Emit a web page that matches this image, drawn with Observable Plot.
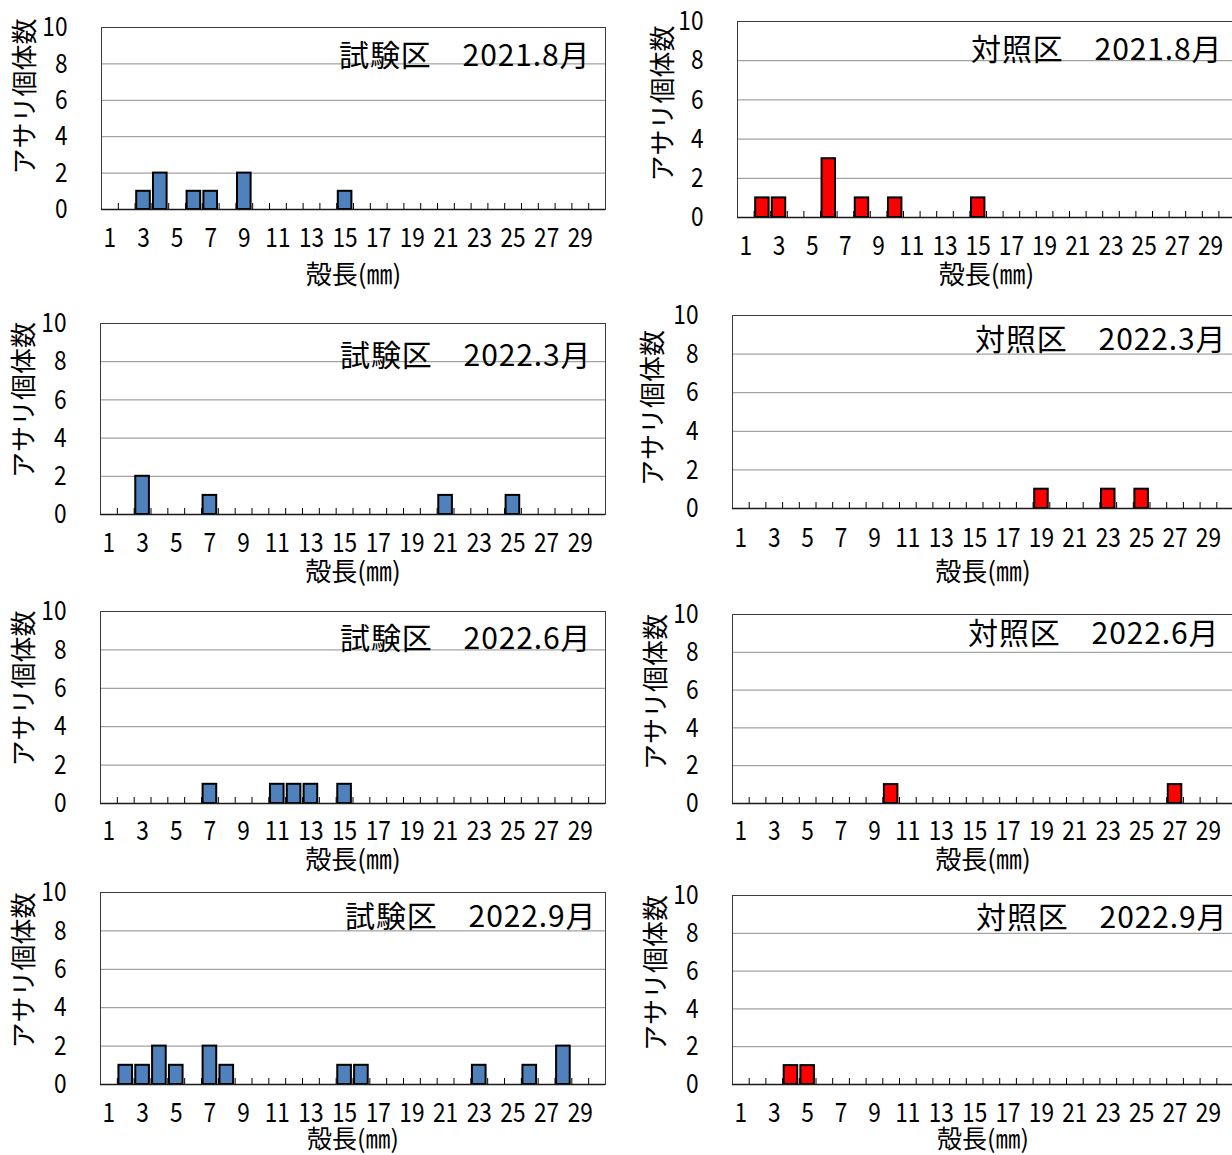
<!DOCTYPE html>
<html><head><meta charset="utf-8">
<script src="https://cdn.jsdelivr.net/npm/d3@7"></script>
<script src="https://cdn.jsdelivr.net/npm/@observablehq/plot@0.6"></script>
<style>
html,body{margin:0;padding:0;background:#fff;}
#wrap{position:relative;width:1232px;height:1155px;overflow:hidden;background:#fff;}
#wrap svg{position:absolute;overflow:visible;background:transparent !important;}
</style></head><body><div id="wrap"></div>
<script>
// shell length classes (mm)
const sizes = [1,2,3,4,5,6,7,8,9,10,11,12,13,14,15,16,17,18,19,20,21,22,23,24,25,26,27,28,29,30];
const xTickLabels = [1,3,5,7,9,11,13,15,17,19,21,23,25,27,29];
const boundaryCats = [2,3,4,5,6,7,8,9,10,11,12,13,14,15,16,17,18,19,20,21,22,23,24,25,26,27,28,29,30];
const yTicks = [0,2,4,6,8,10];
const gridTicks = [2,4,6,8];

// counts of アサリ per shell length class (index 0 = 1 mm)
const test_2021_08 = [0,0,1,2,0,1,1,0,2,0, 0,0,0,0,1,0,0,0,0,0, 0,0,0,0,0,0,0,0,0,0];
const ctrl_2021_08 = [0,1,1,0,0,3,0,1,0,1, 0,0,0,0,1,0,0,0,0,0, 0,0,0,0,0,0,0,0,0,0];
const test_2022_03 = [0,0,2,0,0,0,1,0,0,0, 0,0,0,0,0,0,0,0,0,0, 1,0,0,0,1,0,0,0,0,0];
const ctrl_2022_03 = [0,0,0,0,0,0,0,0,0,0, 0,0,0,0,0,0,0,0,1,0, 0,0,1,0,1,0,0,0,0,0];
const test_2022_06 = [0,0,0,0,0,0,1,0,0,0, 1,1,1,0,1,0,0,0,0,0, 0,0,0,0,0,0,0,0,0,0];
const ctrl_2022_06 = [0,0,0,0,0,0,0,0,0,1, 0,0,0,0,0,0,0,0,0,0, 0,0,0,0,0,0,1,0,0,0];
const test_2022_09 = [0,1,1,2,1,0,2,1,0,0, 0,0,0,0,1,1,0,0,0,0, 0,0,1,0,0,1,0,2,0,0];
const ctrl_2022_09 = [0,0,0,1,1,0,0,0,0,0, 0,0,0,0,0,0,0,0,0,0, 0,0,0,0,0,0,0,0,0,0];

const titles = ["試験区　2021.8月","対照区　2021.8月","試験区　2022.3月","対照区　2022.3月",
                "試験区　2022.6月","対照区　2022.6月","試験区　2022.9月","対照区　2022.9月"];
const yTitle = "アサリ個体数";
const xTitle = "殻長(㎜)";

const BLUE = "#4f81bd", RED = "#ff0000";
const JP_FONT = "'Noto Sans CJK JP',sans-serif";

// layout (pixel positions of each panel frame and its texts)
const layouts = [
  {series: test_2021_08, fill: BLUE, col: 0, fl: 101, fw: 504, ft: 27,  fb: 209,  tp: 18, xt: 66, xs: 26, yx: -76, yy: -22, tx: -15, ty: 29},
  {series: ctrl_2021_08, fill: RED,  col: 1, fl: 737, fw: 498, ft: 21,  fb: 217,  tp: 18, xt: 58, xs: 26, yx: -74, yy: -16, tx: -13, ty: 29},
  {series: test_2022_03, fill: BLUE, col: 0, fl: 100, fw: 505, ft: 323, fb: 514,  tp: 18, xt: 58, xs: 26, yx: -76, yy: -19, tx: -14, ty: 33},
  {series: ctrl_2022_03, fill: RED,  col: 1, fl: 732, fw: 501, ft: 315, fb: 508,  tp: 19, xt: 64, xs: 26, yx: -79, yy: -4,  tx: -7,  ty: 25},
  {series: test_2022_06, fill: BLUE, col: 0, fl: 100, fw: 505, ft: 611, fb: 803,  tp: 17, xt: 57, xs: 26, yx: -76, yy: -19, tx: -14, ty: 28},
  {series: ctrl_2022_06, fill: RED,  col: 1, fl: 732, fw: 501, ft: 614, fb: 803,  tp: 17, xt: 57, xs: 26, yx: -76, yy: -17, tx: -14, ty: 20},
  {series: test_2022_09, fill: BLUE, col: 0, fl: 100, fw: 505, ft: 892, fb: 1084, tp: 18, xt: 55, xs: 25, yx: -76, yy: -18, tx: -9,  ty: 25},
  {series: ctrl_2022_09, fill: RED,  col: 1, fl: 732, fw: 501, ft: 895, fb: 1084, tp: 18, xt: 55, xs: 25, yx: -76, yy: -17, tx: -6,  ty: 23}
];

const wrap = document.getElementById("wrap");
const MT = 30, MB = 90;

// narrow the numeric tick labels horizontally (the original uses a condensed face)
function condense(svg, label, s) {
  svg.querySelectorAll(`g[aria-label="${label}"] text`).forEach(t => {
    const len = t.getComputedTextLength();
    if (len > 0) {
      t.setAttribute("textLength", (len * s).toFixed(2));
      t.setAttribute("lengthAdjust", "spacingAndGlyphs");
    }
  });
}

layouts.forEach((L, k) => {
  const svgLeft = L.col === 0 ? 0 : 620;
  const width = L.col === 0 ? 620 : 640;
  const marginLeft = L.fl - svgLeft;
  const marginRight = width - marginLeft - L.fw;
  const plotH = L.fb - L.ft;
  const height = MT + plotH + MB;
  const step = L.fw / sizes.length;
  const data = sizes.map((s, i) => ({size: s, count: L.series[i]})).filter(d => d.count > 0);

  const chart = Plot.plot({
    width, height,
    marginLeft, marginRight, marginTop: MT, marginBottom: MB,
    style: {fontFamily: JP_FONT, fontSize: "27px", background: "transparent", color: "#000"},
    x: {type: "band", domain: sizes, paddingInner: 0.19, paddingOuter: 0.095, round: false},
    y: {domain: [0, 10]},
    marks: [
      Plot.gridY(gridTicks, {stroke: "#8c8c8c", strokeOpacity: 1}),
      Plot.frame({stroke: "#3c3c3c"}),
      Plot.axisX(boundaryCats, {tickSize: 6, dy: -6, dx: -step / 2, tickFormat: () => "", label: null, stroke: "#000"}),
      Plot.barY(data, {x: "size", y: "count", fill: L.fill, stroke: "#000", strokeWidth: 2}),
      Plot.ruleY([0], {stroke: "#1a1a1a", strokeWidth: 1.3}),
      Plot.axisX(xTickLabels, {tickSize: 0, tickPadding: L.tp, fontSize: 27, label: null}),
      Plot.axisY(yTicks, {tickSize: 0, tickPadding: 34, fontSize: 27, label: null}),
      Plot.text([titles[k]], {frameAnchor: "top-right", textAnchor: "end", lineAnchor: "middle", dx: L.tx, dy: L.ty, fontSize: 30, fontFamily: JP_FONT}),
      Plot.text([yTitle], {frameAnchor: "left", textAnchor: "middle", lineAnchor: "middle", rotate: -90, dx: L.yx, dy: L.yy, fontSize: 26, fontFamily: JP_FONT}),
      Plot.text([xTitle], {frameAnchor: "bottom", textAnchor: "middle", lineAnchor: "middle", dy: L.xt, fontSize: L.xs, fontFamily: JP_FONT})
    ]
  });
  chart.style.left = svgLeft + "px";
  chart.style.top = (L.ft - MT) + "px";
  wrap.appendChild(chart);
  condense(chart, "x-axis tick label", 0.84);
  condense(chart, "y-axis tick label", 0.84);
  chart.querySelectorAll("text").forEach(t => {
    if (t.textContent === titles[k]) t.style.letterSpacing = "0.9px";
  });
});
</script></body></html>
